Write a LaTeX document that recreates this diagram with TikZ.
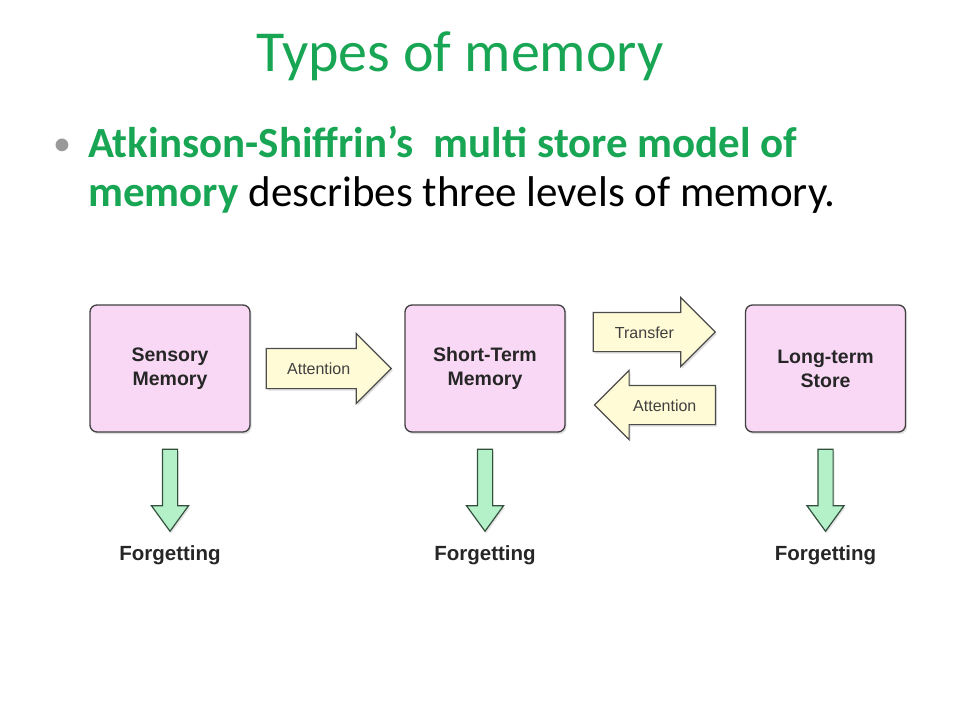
\documentclass[tikz,border=0pt]{standalone}
\usepackage{fontspec}
\setmainfont{Carlito}
\newfontfamily\diagfont{Liberation Sans}
\usetikzlibrary{positioning,shapes.arrows,shadows}
\definecolor{titlegreen}{RGB}{24,166,84}
\definecolor{storepink}{RGB}{249,216,245}
\definecolor{arrowcream}{RGB}{255,251,214}
\definecolor{forgetgreen}{RGB}{180,240,200}
\definecolor{forgetedge}{RGB}{50,80,60}
\tikzset{
    store/.style={draw=black!75, fill=storepink, rounded corners=7pt, line width=1.3pt,
        minimum width=160pt, minimum height=127pt, align=center, text=black!85,
        font=\diagfont\bfseries\fontsize{19.5}{24}\selectfont,
        drop shadow={opacity=0.25, shadow xshift=1.5pt, shadow yshift=-2pt}},
    flow/.style={single arrow, draw=black!70, fill=arrowcream, line width=1.2pt,
        single arrow head extend=15pt, inner xsep=4pt, inner ysep=13pt,
        text height=12pt, text depth=0pt, text=black!75,
        font=\diagfont\fontsize{16}{16}\selectfont,
        drop shadow={opacity=0.25, shadow xshift=1.5pt, shadow yshift=-2pt}},
    forget/.style={single arrow, shape border rotate=270, draw=forgetedge, fill=forgetgreen,
        line width=1.2pt, minimum height=82pt, inner sep=7pt,
        single arrow head extend=11pt, single arrow tip angle=72,
        drop shadow={opacity=0.2, shadow xshift=1.5pt, shadow yshift=-2pt}},
    forgetlabel/.style={font=\diagfont\bfseries\fontsize{20.5}{20.5}\selectfont, text=black!85}
}
\begin{document}
\begin{tikzpicture}[x=1pt, y=-1pt]
    \useasboundingbox (0,0) rectangle (960,720);

    \node[anchor=base, text=titlegreen, font=\fontsize{58}{58}\selectfont] (title) at (460,71) {Types of memory};
    \node[anchor=base, text=black!40, font=\fontsize{36}{50}\selectfont] (bullet) at (62,155) {•};
    \node[anchor=base west, inner sep=0pt, font=\fontsize{43}{50}\selectfont] (line1) at (88,157)
        {\textcolor{titlegreen}{\bfseries Atkinson-Shiffrin’s\hspace{0.25em} multi store model of}};
    \node[anchor=base west, inner sep=0pt, font=\fontsize{43}{50}\selectfont] (line2) at (88,206)
        {\textcolor{titlegreen}{\bfseries memory} describes three levels of memory.};

    \node[store] (sensory) at (170,368.5) {Sensory\\Memory};
    \node[store] (short) at (485,368.5) {Short-Term\\Memory};
    \node[store] (long) at (825.5,368.5) {Long-term\\Store};

    \node[flow, minimum height=125pt, inner ysep=13.5pt, right=15pt of sensory] (attend) {Attention};
    \node[flow, minimum height=122pt, right=27pt of short, yshift=36.5pt] (transfer) {Transfer};
    \node[flow, minimum height=121pt, shape border rotate=180, right=28pt of short, yshift=-36.5pt] (retrieve) {Attention};

    \node[forget, below=16pt of sensory] (drop1) {};
    \node[forget, below=16pt of short] (drop2) {};
    \node[forget, below=16pt of long] (drop3) {};

    \node[forgetlabel, below=10pt of drop1] (lost1) {Forgetting};
    \node[forgetlabel, below=10pt of drop2] (lost2) {Forgetting};
    \node[forgetlabel, below=10pt of drop3] (lost3) {Forgetting};
\end{tikzpicture}
\end{document}
